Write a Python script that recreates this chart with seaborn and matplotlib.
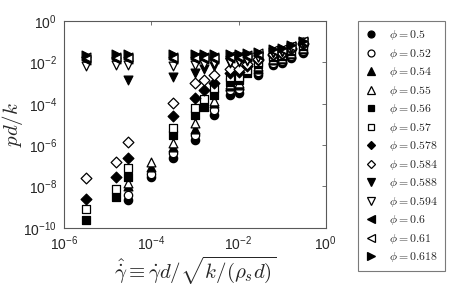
import numpy as np
import pandas as pd
import seaborn as sns
import matplotlib.pyplot as plt

# shear rate columns (gamma hat)
gamma = [3.2e-6, 1.6e-5, 3e-5, 1e-4, 3.2e-4, 1e-3, 1.6e-3, 2.8e-3,
         6.3e-3, 1e-2, 1.6e-2, 2.8e-2, 6.3e-2, 1e-1, 1.6e-1, 3e-1]

phis = ['0.5', '0.52', '0.54', '0.55', '0.56', '0.57', '0.578',
        '0.584', '0.588', '0.594', '0.6', '0.61', '0.618']

# log10(pd/k), nan = no point
nan = np.nan
p_050 = [nan, nan, -8.65, -7.55, -6.6, -5.75, nan, -4.55, -3.6, -3.5, nan, -2.6, -2.15, -2.05, -1.8, -1.55]
p_052 = [nan, nan, -8.4, -7.4, -6.4, -5.5, nan, -4.3, -3.35, -3.3, nan, -2.45, -2.05, -1.95, -1.7, -1.45]
p_054 = [nan, nan, -8.0, -7.05, -6.1, -5.2, nan, -3.95, -3.15, -3.1, nan, -2.3, -1.9, -1.85, -1.6, -1.35]
p_055 = [nan, nan, -7.85, -6.8, -5.9, -4.95, nan, -3.85, -3.05, -3.0, nan, -2.2, -1.85, -1.8, -1.55, -1.3]
p_056 = [-9.6, -8.5, -7.55, nan, -5.5, -4.55, -4.15, -3.6, -2.95, -2.85, -2.5, -2.1, -1.75, -1.7, -1.45, -1.2]
p_057 = [-9.1, -8.1, -7.1, nan, -5.15, -4.2, -3.75, -3.25, -2.7, -2.7, -2.35, -2.0, -1.7, -1.65, -1.4, -1.15]
p_0578 = [-8.6, -7.55, -6.6, nan, -4.6, -3.7, -3.35, -3.0, -2.5, -2.45, -2.2, -1.9, -1.65, -1.6, -1.35, -1.1]
p_0584 = [-7.6, -6.8, -5.85, nan, -3.95, -3.0, -2.85, -2.6, -2.3, -2.3, -2.1, -1.85, -1.6, -1.55, -1.3, -1.05]
p_0588 = [-1.95, -2.0, -2.85, nan, -2.7, -2.5, -2.3, -2.2, -2.05, -2.0, -1.95, -1.75, -1.55, -1.5, -1.3, -1.05]
p_0594 = [-2.2, -2.15, -2.15, nan, -2.2, -2.15, -2.1, -2.05, -2.0, -1.95, -1.9, -1.75, -1.5, -1.45, -1.25, -1.0]
p_060 = [-1.9, -1.85, -1.85, nan, -1.85, -1.85, -1.85, -1.85, -1.8, -1.8, -1.75, -1.65, -1.45, -1.4, -1.2, -1.0]
p_061 = [-1.75, -1.75, -1.75, nan, -1.75, -1.75, -1.75, -1.75, -1.7, -1.7, -1.65, -1.55, -1.4, -1.35, -1.2, -0.95]
p_0618 = [-1.65, -1.6, -1.6, nan, -1.6, -1.6, -1.6, -1.6, -1.6, -1.6, -1.55, -1.5, -1.35, -1.3, -1.15, -0.95]

series = [p_050, p_052, p_054, p_055, p_056, p_057, p_0578,
          p_0584, p_0588, p_0594, p_060, p_061, p_0618]
markers = ['o', 'o', '^', '^', 's', 's', 'D', 'D', 'v', 'v', '<', '<', '>']
filled = [True, False, True, False, True, False, True, False, True, False, True, False, True]
sizes = [36, 36, 40, 40, 30, 30, 30, 30, 40, 40, 40, 40, 40]
leg_sizes = {'o': 5, '^': 5.5, 's': 4.5, 'D': 4, 'v': 5.5, '<': 5.5, '>': 5.5}

sns.set_theme(style='white')
plt.rcParams['font.family'] = ['Liberation Sans', 'DejaVu Sans']
plt.rcParams['mathtext.fontset'] = 'custom'
plt.rcParams['mathtext.rm'] = 'Liberation Sans'
plt.rcParams['mathtext.it'] = 'Liberation Sans:italic'

fig = plt.figure(figsize=(4.5, 2.87), dpi=100)
ax = fig.add_axes([0.142, 0.206, 0.582, 0.721])

handles = []
for phi, vals, m, f, s in zip(phis, series, markers, filled, sizes):
    df = pd.DataFrame({'gamma': gamma, 'p': 10.0 ** np.array(vals)}).dropna()
    sns.scatterplot(data=df, x='gamma', y='p', ax=ax, marker=m, s=s,
                    facecolor='black' if f else 'white', edgecolor='black',
                    linewidth=0.9, legend=False, zorder=3)
    h = plt.Line2D([], [], linestyle='none', marker=m, markersize=leg_sizes[m],
                   markerfacecolor='black' if f else 'white',
                   markeredgecolor='black', markeredgewidth=0.9)
    handles.append(h)

ax.set_xscale('log')
ax.set_yscale('log')
ax.set_xlim(1e-6, 1)
ax.set_ylim(1e-10, 1)
ax.set_xticks([1e-6, 1e-4, 1e-2, 1])
ax.set_yticks([1e-10, 1e-8, 1e-6, 1e-4, 1e-2, 1])
ax.minorticks_off()
ax.tick_params(direction='in', top=True, right=True, length=3, width=0.6,
               color='0.35', labelsize=10, pad=5)
for sp in ax.spines.values():
    sp.set_color('0.35')
    sp.set_linewidth(0.8)

ax.set_xlabel(r'$\hat{\dot{\gamma}} \equiv \dot{\gamma} d / \sqrt{k/(\rho_s d)}$',
              fontsize=15, math_fontfamily='cm', labelpad=1)
ax.set_ylabel(r'$pd/k$', fontsize=15, math_fontfamily='cm')
ax.yaxis.set_label_coords(-0.15, 0.5)

labels = [r'$\phi = %s$' % p for p in phis]
leg = fig.legend(handles, labels, loc='center left', bbox_to_anchor=(0.796, 0.49),
                 frameon=True, fancybox=False, edgecolor='0.35', fontsize=8.5,
                 labelspacing=0.38, handletextpad=1.0, handlelength=1.0,
                 borderpad=0.6, borderaxespad=0)
leg.get_frame().set_linewidth(0.8)
for t in leg.get_texts():
    t.set_math_fontfamily('cm')

fig.savefig('out.png', dpi=100)
